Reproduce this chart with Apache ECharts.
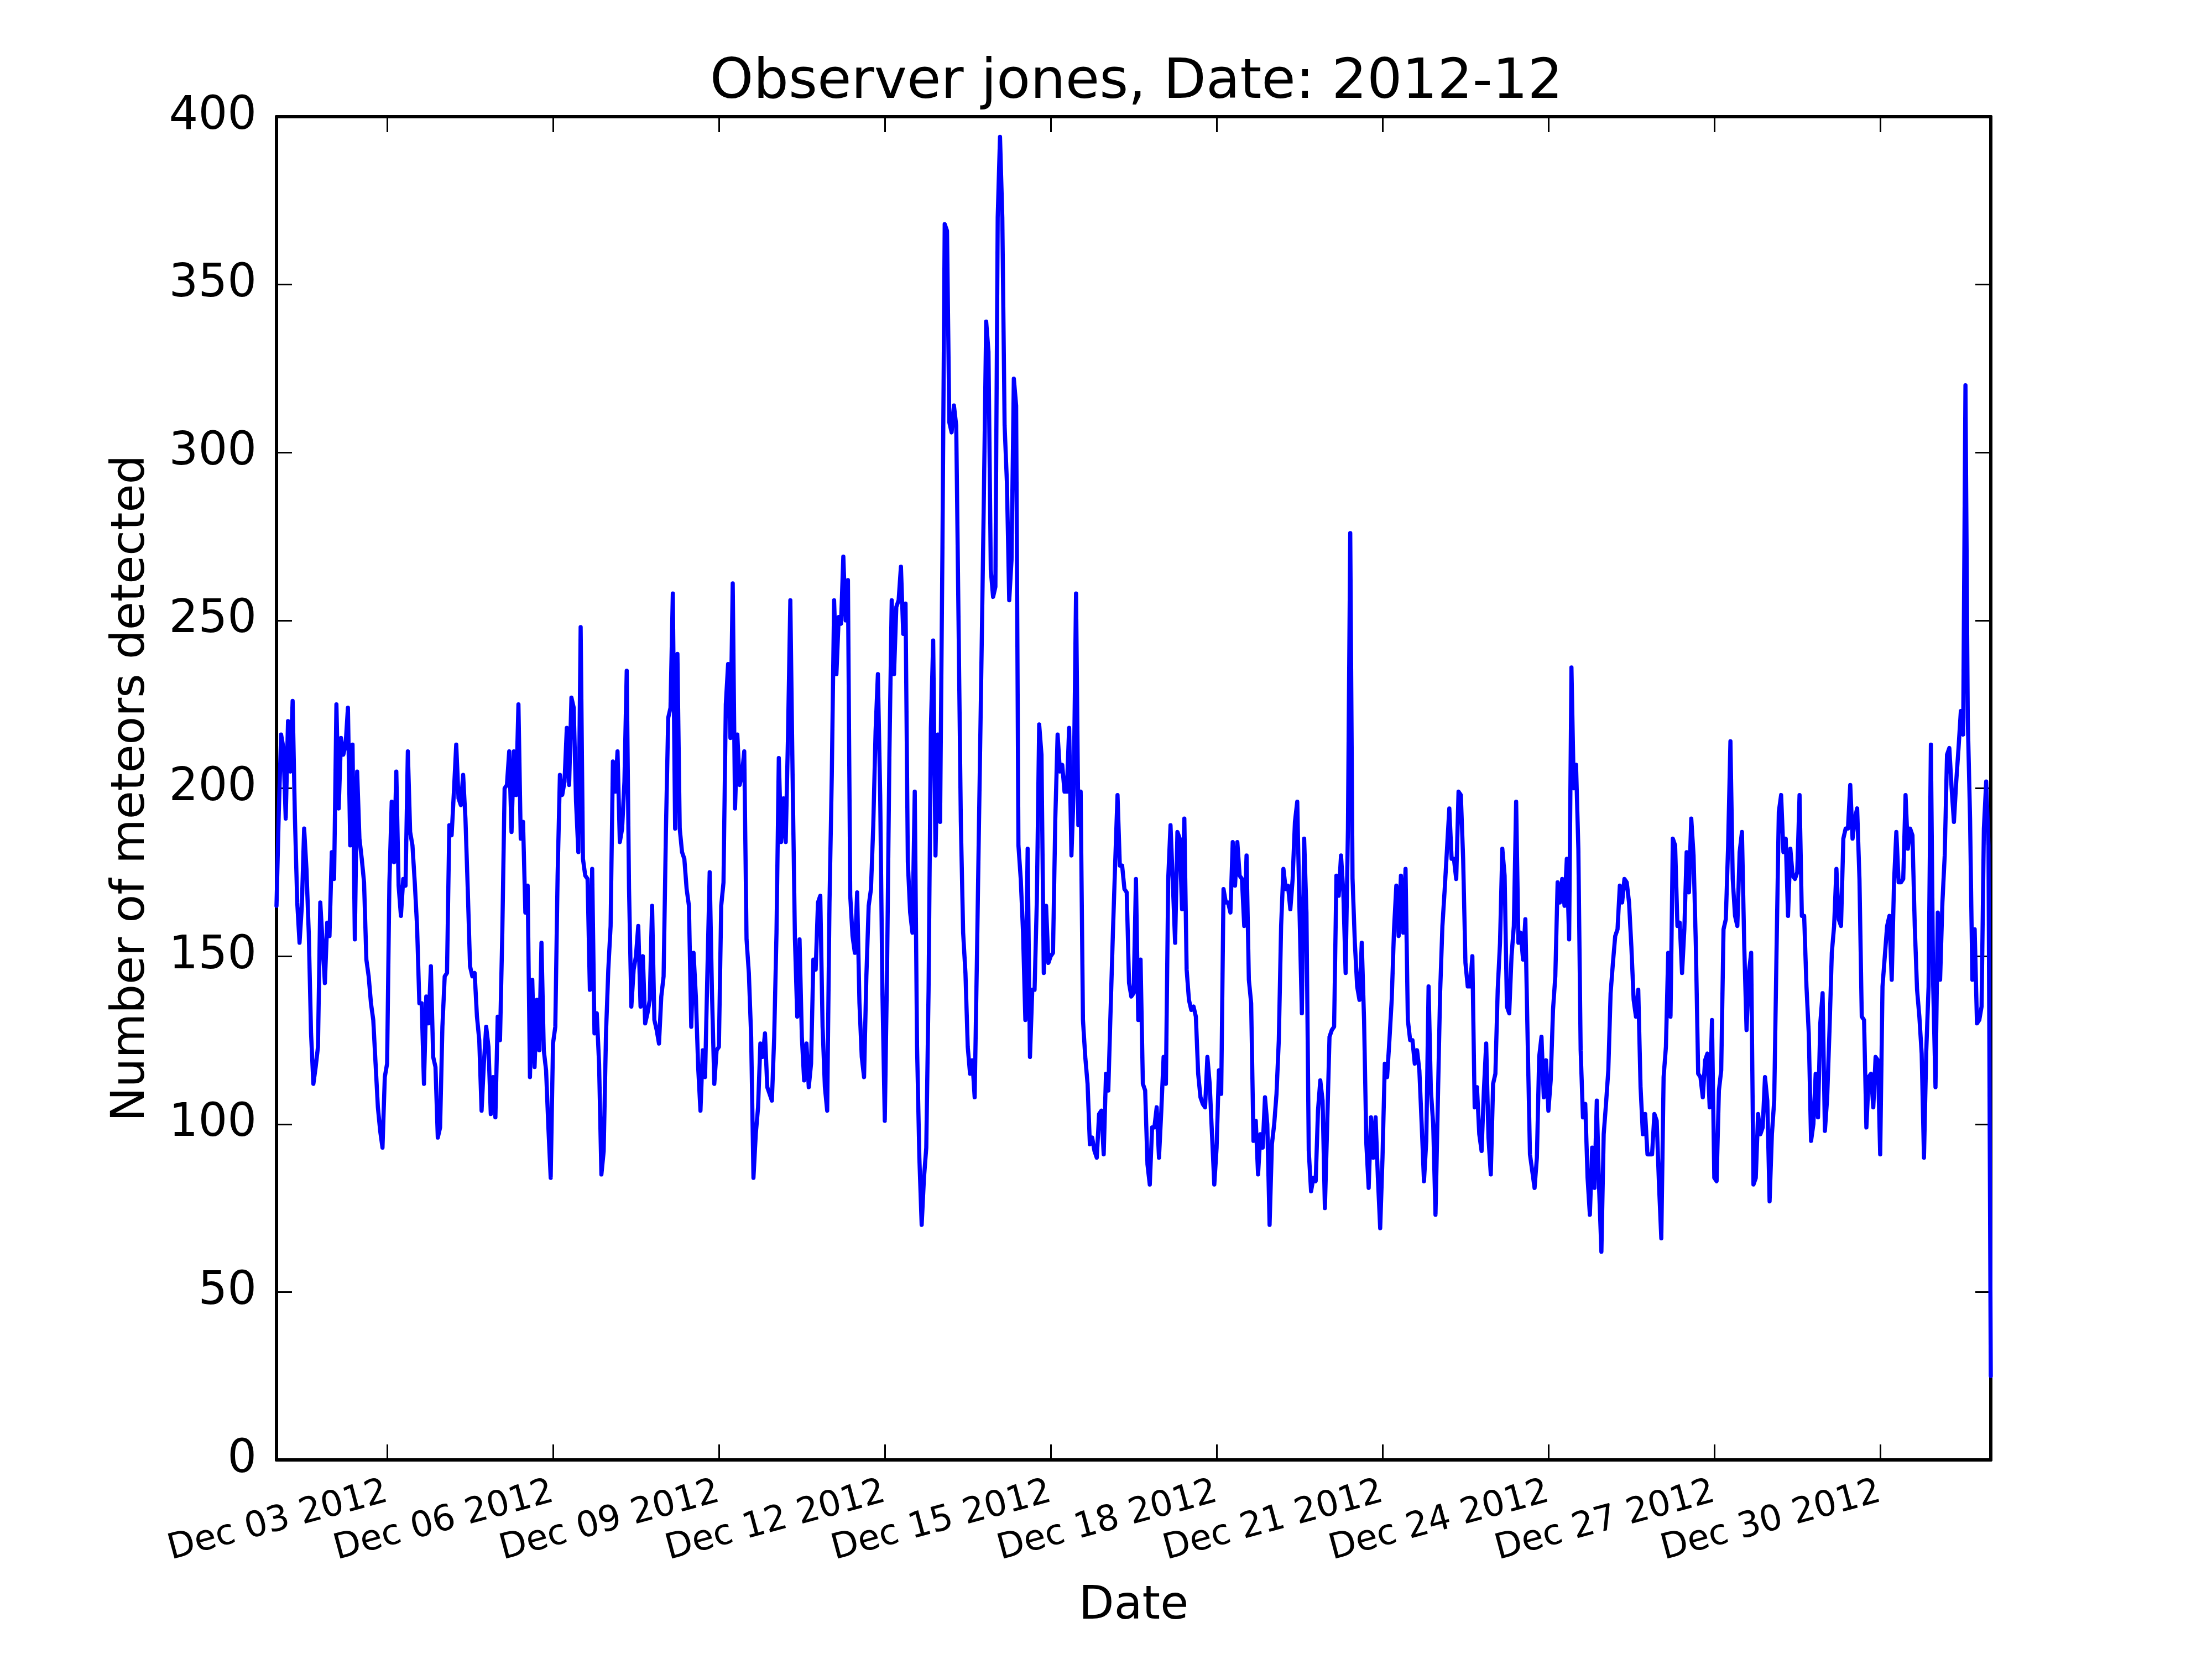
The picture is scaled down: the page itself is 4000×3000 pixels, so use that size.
<!DOCTYPE html>
<html>
<head>
<meta charset="utf-8">
<script src="https://cdn.jsdelivr.net/npm/echarts@6/dist/echarts.min.js"></script>
<style>
html,body{margin:0;padding:0;background:#fff;}
#chart{width:4000px;height:3000px;}
</style>
</head>
<body>
<div id="chart"></div>
<script>
// Hourly meteor counts (Dec 1 00:00 onward)
const countsDec01to08 = [165,193,216,212,191,220,205,226,191,166,
154,165,188,176,157,127,112,117,123,166,
154,142,160,156,181,173,225,194,215,210,
213,224,183,213,155,205,185,179,172,149,
144,136,131,118,105,98,93,114,118,172,
196,178,205,171,162,173,171,211,187,183,
172,159,136,136,112,138,130,147,120,117,
96,99,129,144,145,189,186,199,213,197,
195,204,191,170,147,144,145,132,125,104,
118,129,123,103,114,102,132,125,157,200,
201,211,187,211,198,225,185,190,163,171,
114,143,117,137,122,154,122,116,99,84,
124,129,174,204,198,202,218,201,227,224,
196,181,248,179,174,173,140,176,127,133,
118,85,92,127,146,159,208,199,211,184,
188,202,235,170,135,146,150,159,135,150,
130,133,137,165,131,128,124,138,144,187,
221,224,258,188,240,188,181,179,170,165,129,
151,138,117,104,122,114,145,175,139,112];

const countsDec08to12 = [122,123,165,172,225,237,215,261,194,216,
201,204,211,155,145,126,84,97,105,124,
120,127,111,109,107,126,157,209,184,197,
184,216,256,203,155,132,155,126,113,124,
111,118,149,146,166,168,129,111,104,166,
204,256,234,251,249,269,250,262,168,156,
151,169,136,120,114,144,165,170,189,217,
234,198,138,101,147,210,256,234,254,256,
266,246,255,178,163,157,199,123,90,70];

const countsDec12to17 = [84,93,140,218,244,180,216,190,270,368,
366,309,306,314,308,250,190,157,145,123,
115,119,108,150,195,240,287,339,330,265,
257,260,370,394,370,308,291,256,268,322,
314,183,173,157,131,182,120,140,140,167,
219,210,145,165,148,150,151,191,216,205,
207,199,199,218,180,200,258,189,199,131,
120,112,94,96,92,90,103,104,91,115,
110,134,157,178,198,177,177,170,169,142,
138,139,173,131,149,112,110,88,82,99,
99,105,90,104,120];

const countsDec17to25 = [112,173,189,172,154,187,185,164,191,146,
137,134,135,132,115,108,106,105,120,112,
97,82,93,116,109,170,166,166,163,184,
171,184,174,173,159,180,143,136,95,101,
85,97,93,108,100,70,94,100,109,125,
159,176,170,171,164,173,190,196,163,133,
185,163,92,80,84,83,104,113,107,75,
100,126,128,129,174,168,180,169,145,188,
276,173,154,141,137,154,131,94,81,102,
90,102,84,69,90,118,114,125,137,158,
171,156,174,157,176,131,125,125,118,122,
116,100,83,95,141,110,100,73,106,139,
159,170,182,194,179,179,173,199,198,179,
148,141,141,150,105,111,97,92,110,124,
96,85,112,115,140,154,182,174,135,133,
150,159,196,154,157,149,161,125,91,86,
81,90,120,126,108,119,104,113,134,144,
172,166,173,165,179,155,236,200,207,182,
122,102,106,84,73,93,81,107,81,62,
97,106];

const countsDec25to31 = [116,139,148,156,158,171,166,173,172,166,
153,137,132,140,111,97,103,91,91,91,
103,101,82,66,114,123,151,132,185,183,
159,160,145,158,181,169,191,180,153,115,
114,108,119,121,105,131,84,83,110,116,
158,161,183,214,173,162,159,181,187,153,
128,145,151,82,84,103,97,99,114,107,
77,97,107,151,193,198,181,185,162,182,
174,173,175,198,162,162,141,127,95,100,
115,102,130,139,98,108,128,151,159,176,
161,159,185,188,188,201,185,191,194,173,
132,131,99,114,115,105,120,119,91,141,
150,159,162,143,172,187,172,172,173,198,
182,188,186,159,140,132,121,90,122,141,
213,141,111,163,143,166,180,210,212,200,
190,202,212,223,216,320,221,191,143,158,
130,131,135,188,202,183,25];

const yTicks = [0, 50, 100, 150, 200, 250, 300, 350, 400];
const xTickLabels = ['Dec 03 2012','Dec 06 2012','Dec 09 2012','Dec 12 2012','Dec 15 2012',
  'Dec 18 2012','Dec 21 2012','Dec 24 2012','Dec 27 2012','Dec 30 2012'];
const titleText = 'Observer jones, Date: 2012-12';
const xName = 'Date';
const yName = 'Number of meteors detected';

const counts = [].concat(countsDec01to08, countsDec08to12, countsDec12to17, countsDec17to25, countsDec25to31);

// hourly category timestamps starting 2012-12-01 00:00
const startMs = Date.UTC(2012, 11, 1, 0, 0, 0);
const hours = counts.map((_, i) => {
  const d = new Date(startMs + i * 3600000);
  return d.toISOString().slice(0, 13);
});
const firstTick = 48, tickStep = 72;
const isTick = (idx) => idx >= firstTick && (idx - firstTick) % tickStep === 0;

const FONT = 'DejaVu Sans';
const chart = echarts.init(document.getElementById('chart'), null, {renderer: 'canvas', width: 4000, height: 3000});

const spine = {show: true, onZero: false, lineStyle: {color: '#000', width: 6}};
const tickIn = {show: true, inside: true, length: 28, lineStyle: {color: '#000', width: 3}};

const gridLeft = 500, gridRight = 400;

chart.setOption({
  animation: false,
  backgroundColor: '#ffffff',
  title: {
    text: titleText,
    left: gridLeft + (4000 - gridLeft - gridRight) / 2,
    textAlign: 'center',
    top: 96,
    textStyle: {fontFamily: FONT, fontSize: 100, fontWeight: 'normal', color: '#000'}
  },
  grid: {left: gridLeft, right: gridRight, top: 211, bottom: 360, containLabel: false},
  xAxis: [{
    type: 'category',
    data: hours,
    boundaryGap: false,
    position: 'bottom',
    axisLine: spine,
    axisTick: Object.assign({}, tickIn, {interval: (i) => isTick(i)}),
    axisLabel: {
      interval: (i) => isTick(i),
      rotate: 15,
      margin: 58,
      fontFamily: FONT,
      fontSize: 64,
      color: '#000',
      formatter: (v, i) => xTickLabels[(i - firstTick) / tickStep] || ''
    },
    splitLine: {show: false},
    name: xName,
    nameLocation: 'middle',
    nameGap: 224,
    nameTextStyle: {fontFamily: FONT, fontSize: 83, color: '#000'}
  }, {
    type: 'category',
    data: hours,
    boundaryGap: false,
    position: 'top',
    axisLine: spine,
    axisTick: Object.assign({}, tickIn, {interval: (i) => isTick(i)}),
    axisLabel: {show: false},
    splitLine: {show: false}
  }],
  yAxis: [{
    type: 'value',
    min: yTicks[0],
    max: yTicks[yTicks.length - 1],
    interval: yTicks[1] - yTicks[0],
    position: 'left',
    axisLine: spine,
    axisTick: tickIn,
    axisLabel: {fontFamily: FONT, fontSize: 83, color: '#000', margin: 36},
    splitLine: {show: false},
    name: yName,
    nameLocation: 'middle',
    nameGap: 220,
    nameTextStyle: {fontFamily: FONT, fontSize: 83, color: '#000'}
  }, {
    type: 'value',
    min: yTicks[0],
    max: yTicks[yTicks.length - 1],
    interval: yTicks[1] - yTicks[0],
    position: 'right',
    axisLine: spine,
    axisTick: tickIn,
    axisLabel: {show: false},
    splitLine: {show: false}
  }],
  series: [{
    type: 'line',
    data: counts,
    xAxisIndex: 0,
    yAxisIndex: 0,
    showSymbol: false,
    symbol: 'none',
    lineStyle: {color: '#0000ff', width: 7.5, join: 'round', cap: 'round'},
    z: 1
  }]
});
</script>
</body>
</html>
